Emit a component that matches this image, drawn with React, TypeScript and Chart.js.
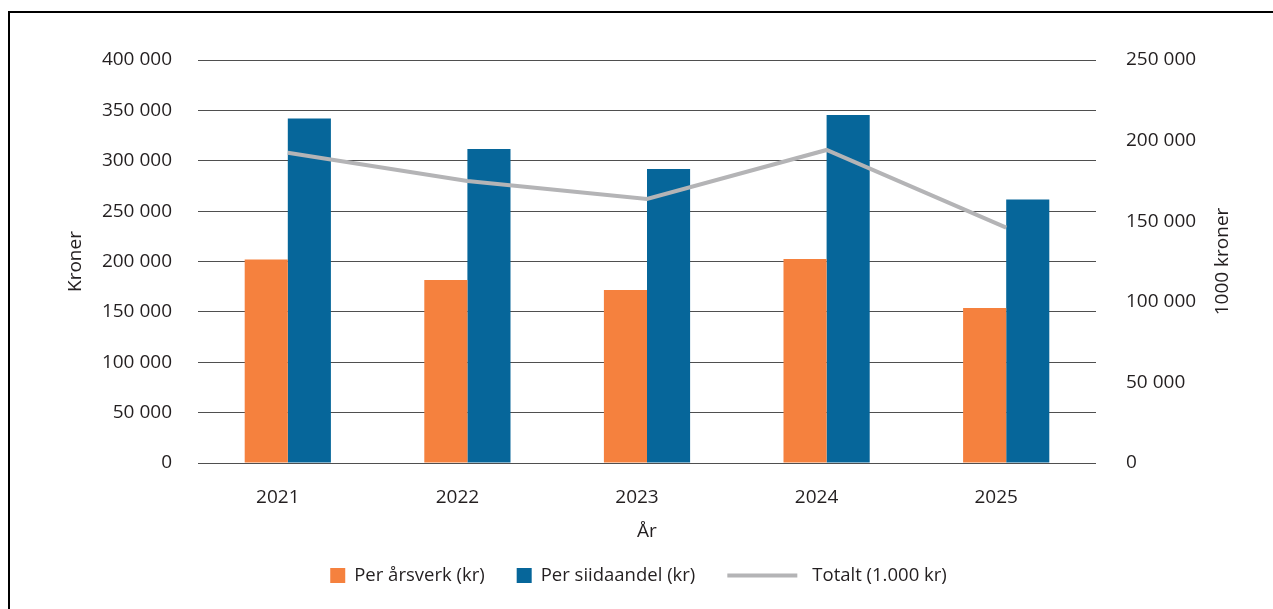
import { useEffect, useRef } from 'react';
import { Chart, registerables } from 'chart.js';

Chart.register(...registerables);

// ---- data ----
const years = ['2021', '2022', '2023', '2024', '2025'];
const perArsverk = [202000, 181600, 171700, 202400, 153800];
const perSiidaandel = [342000, 311700, 291800, 345400, 261500];
const totalt = [192500, 175000, 163800, 194200, 146000];
const seriesNames = ['Per årsverk (kr)', 'Per siidaandel (kr)', 'Totalt (1.000 kr)'];
const leftAxisTitle = 'Kroner';
const rightAxisTitle = '1000 kroner';
const xAxisTitle = 'År';

const FONT = "'Open Sans', 'Noto Sans', sans-serif";
const TEXT = '#231f20';
const ORANGE = '#f5813e';
const BLUE = '#06669a';
const GREY = '#b4b4b6';

const fmt = (v: number) => String(v).replace(/\B(?=(\d{3})+(?!\d))/g, ' ');

const legendPlugin = {
  id: 'customLegend',
  afterDraw(chart: any) {
    const ctx = chart.ctx as CanvasRenderingContext2D;
    const ds = chart.data.datasets;
    ctx.save();
    ctx.font = `18.5px ${FONT}`;
    ctx.textBaseline = 'middle';
    ctx.textAlign = 'left';
    const box = 15, gapBoxText = 9, gapItem = 32, lineW = 70, gapLineText = 15;
    const widths = ds.map((d: any) => ctx.measureText(d.label).width);
    let total = 0;
    ds.forEach((d: any, i: number) => {
      total += (d.type === 'line' ? lineW + gapLineText : box + gapBoxText) + widths[i];
      if (i < ds.length - 1) total += gapItem;
    });
    const cx = (chart.chartArea.left + chart.chartArea.right) / 2 - 8.5;
    let x = cx - total / 2;
    const y = chart.height - 33.5;
    ds.forEach((d: any, i: number) => {
      if (d.type === 'line') {
        ctx.strokeStyle = d.borderColor;
        ctx.lineWidth = 4;
        ctx.beginPath();
        ctx.moveTo(x, y);
        ctx.lineTo(x + lineW, y);
        ctx.stroke();
        x += lineW + gapLineText;
      } else {
        ctx.fillStyle = d.backgroundColor;
        ctx.fillRect(x, y - box / 2, box, box);
        x += box + gapBoxText;
      }
      ctx.fillStyle = TEXT;
      ctx.fillText(d.label, x, y + 0.5);
      x += widths[i] + gapItem;
    });

    // right axis title, reading bottom-to-top
    const s = chart.scales.y2;
    ctx.save();
    ctx.font = `19px ${FONT}`;
    ctx.fillStyle = TEXT;
    ctx.textAlign = 'center';
    ctx.textBaseline = 'middle';
    ctx.translate(s.right - 50.5, (s.top + s.bottom) / 2);
    ctx.rotate(-Math.PI / 2);
    ctx.fillText(rightAxisTitle, 0, 0);
    ctx.restore();

    ctx.restore();
  },
};

export default function App() {
  const ref = useRef<HTMLCanvasElement | null>(null);

  useEffect(() => {
    if (!ref.current) return;
    Chart.defaults.font.family = FONT;
    Chart.defaults.color = TEXT;
    const chart = new Chart(ref.current, {
      type: 'bar',
      data: {
        labels: years,
        datasets: [
          {
            type: 'bar',
            label: seriesNames[0],
            data: perArsverk,
            backgroundColor: ORANGE,
            yAxisID: 'y',
            order: 1,
            categoryPercentage: 0.48,
            barPercentage: 1,
          },
          {
            type: 'bar',
            label: seriesNames[1],
            data: perSiidaandel,
            backgroundColor: BLUE,
            yAxisID: 'y',
            order: 1,
            categoryPercentage: 0.48,
            barPercentage: 1,
          },
          {
            type: 'line',
            label: seriesNames[2],
            data: totalt,
            borderColor: GREY,
            backgroundColor: GREY,
            borderWidth: 4,
            pointRadius: 0,
            tension: 0,
            yAxisID: 'y2',
            order: 0,
          } as any,
        ],
      },
      options: {
        responsive: false,
        animation: false,
        layout: { padding: { left: 0, right: 0, top: 60, bottom: 50 } },
        plugins: {
          legend: { display: false },
          tooltip: { enabled: false },
        },
        scales: {
          x: {
            grid: { display: false },
            border: { display: false },
            ticks: { font: { size: 19 }, padding: 15, labelOffset: -10, color: TEXT },
            title: {
              display: true,
              text: xAxisTitle,
              font: { size: 19 },
              color: TEXT,
              padding: { top: 0, bottom: 16 },
            },
            afterFit: (s: any) => {
              s.height = 96;
            },
          },
          y: {
            position: 'left',
            min: 0,
            max: 400000,
            ticks: { stepSize: 50000, font: { size: 19 }, padding: 26, color: TEXT, callback: (v: any) => fmt(Number(v)) },
            grid: { color: '#4f4f4f', lineWidth: 1, drawTicks: false },
            border: { display: false },
            title: {
              display: true,
              text: leftAxisTitle,
              font: { size: 19 },
              color: TEXT,
              padding: { top: 64, bottom: 0 },
            },
            afterFit: (s: any) => {
              s.width = 198;
            },
          },
          y2: {
            position: 'right',
            min: 0,
            max: 250000,
            ticks: { stepSize: 50000, font: { size: 19 }, padding: 30, color: TEXT, callback: (v: any) => fmt(Number(v)) },
            grid: { display: false, drawTicks: false },
            border: { display: false },
            title: { display: false, text: rightAxisTitle },
            afterFit: (s: any) => {
              s.width = 177;
            },
          },
        },
      },
      plugins: [legendPlugin],
    } as any);
    return () => chart.destroy();
  }, []);

  return (
    <>
      <div
        style={{
          position: 'fixed',
          left: 8,
          top: 11,
          width: 1265,
          height: 598,
          borderTop: '2px solid #000',
          borderLeft: '2px solid #000',
          boxSizing: 'border-box',
          pointerEvents: 'none',
        }}
      />
      <canvas
        ref={ref}
        width={1273}
        height={609}
        style={{ position: 'fixed', left: 0, top: 0, width: 1273, height: 609 }}
      />
    </>
  );
}
